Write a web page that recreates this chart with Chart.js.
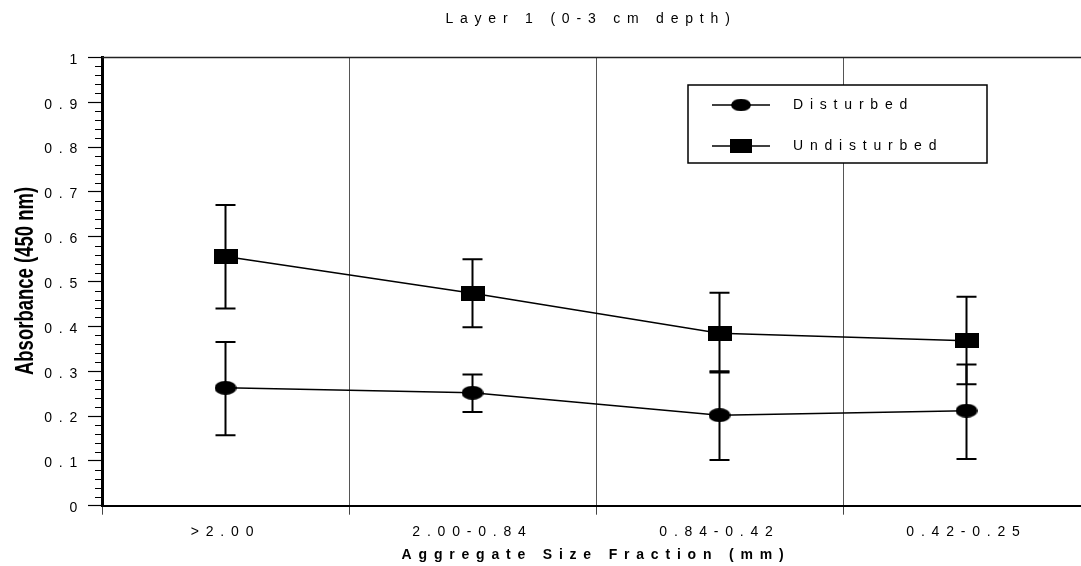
<!DOCTYPE html>
<html>
<head>
<meta charset="utf-8">
<script src="https://cdn.jsdelivr.net/npm/chart.js@4"></script>
<style>
  html, body { margin: 0; padding: 0; background: #fff; overflow: hidden; }
  #wrap { width: 1182px; height: 566px; }
</style>
</head>
<body>
<div id="wrap"><canvas id="chart" width="1182" height="566"></canvas></div>
<script>
// Data
const categories = ['>2.00', '2.00-0.84', '0.84-0.42', '0.42-0.25'];
const disturbed = [0.263, 0.252, 0.202, 0.212];
const disturbedLow = [0.157, 0.209, 0.102, 0.104];
const disturbedHigh = [0.365, 0.293, 0.300, 0.315];
const undisturbed = [0.556, 0.474, 0.385, 0.368];
const undisturbedLow = [0.440, 0.398, 0.297, 0.271];
const undisturbedHigh = [0.671, 0.550, 0.475, 0.466];
const yTicks = [0, 0.1, 0.2, 0.3, 0.4, 0.5, 0.6, 0.7, 0.8, 0.9, 1];
const chartTitle = 'Layer 1 (0-3 cm depth)';

const SPACING = '6.8px';
const FONT = "'Liberation Sans', Arial, sans-serif";

// Marker images (ellipse and flat rectangle, like the original)
function makeEllipse(w, h) {
  const c = document.createElement('canvas');
  c.width = w; c.height = h;
  const g = c.getContext('2d');
  g.fillStyle = '#000';
  g.beginPath();
  g.ellipse(w / 2, h / 2, w / 2, h / 2, 0, 0, Math.PI * 2);
  g.fill();
  return c;
}
function makeRect(w, h) {
  const c = document.createElement('canvas');
  c.width = w; c.height = h;
  const g = c.getContext('2d');
  g.fillStyle = '#000';
  g.fillRect(0, 0, w, h);
  return c;
}
const circleMark = makeEllipse(22, 14);
const squareMark = makeRect(24, 15);

const errorBars = [
  { low: disturbedLow, high: disturbedHigh },
  { low: undisturbedLow, high: undisturbedHigh }
];

// Spaced-out lettering like the old export
const spacingPlugin = {
  id: 'spacing',
  beforeDraw(chart) {
    chart.ctx.letterSpacing = SPACING;
  }
};

// Error bars through the scales
const errorBarPlugin = {
  id: 'errorBars',
  beforeDatasetsDraw(chart) {
    const ctx = chart.ctx;
    const x = chart.scales.x, y = chart.scales.y;
    ctx.save();
    ctx.strokeStyle = '#000';
    ctx.lineWidth = 2;
    errorBars.forEach(bar => {
      categories.forEach((cat, i) => {
        const px = x.getPixelForValue(i);
        const top = y.getPixelForValue(bar.high[i]);
        const bot = y.getPixelForValue(bar.low[i]);
        ctx.beginPath();
        ctx.moveTo(px, top); ctx.lineTo(px, bot);
        ctx.moveTo(px - 10, top); ctx.lineTo(px + 10, top);
        ctx.moveTo(px - 10, bot); ctx.lineTo(px + 10, bot);
        ctx.stroke();
      });
    });
    ctx.restore();
  }
};

// Title, frame, minor ticks, legend box and y title
const decorPlugin = {
  id: 'decor',
  afterDraw(chart) {
    const ctx = chart.ctx;
    const area = chart.chartArea;
    const y = chart.scales.y;
    ctx.save();

    // title, centred over the plot like the original
    ctx.letterSpacing = SPACING;
    ctx.fillStyle = '#000';
    ctx.font = '14px ' + FONT;
    ctx.textAlign = 'center';
    ctx.textBaseline = 'middle';
    ctx.fillText(chartTitle, 591, 19.5);
    ctx.letterSpacing = '0px';

    // top and right border of the plot
    ctx.strokeStyle = '#222';
    ctx.lineWidth = 1.5;
    ctx.beginPath();
    ctx.moveTo(area.left, area.top);
    ctx.lineTo(area.right, area.top);
    ctx.lineTo(area.right, area.bottom);
    ctx.stroke();

    // minor ticks every 0.02
    ctx.strokeStyle = '#000';
    ctx.lineWidth = 1.2;
    ctx.beginPath();
    for (let k = 0; k <= 50; k++) {
      if (k % 5 === 0) continue;
      const py = Math.round(y.getPixelForValue(k / 50)) + 0.5;
      ctx.moveTo(area.left - 7, py);
      ctx.lineTo(area.left, py);
    }
    ctx.stroke();

    // legend
    const lx = 688, ly = 85, lw = 299, lh = 78;
    ctx.fillStyle = '#fff';
    ctx.fillRect(lx, ly, lw, lh);
    ctx.strokeStyle = '#000';
    ctx.lineWidth = 1.5;
    ctx.strokeRect(lx, ly, lw, lh);
    const rows = [
      { label: chart.data.datasets[0].label, mark: circleMark, y: 105 },
      { label: chart.data.datasets[1].label, mark: squareMark, y: 146 }
    ];
    rows.forEach(r => {
      ctx.lineWidth = 1.5;
      ctx.beginPath();
      ctx.moveTo(712, r.y); ctx.lineTo(770, r.y);
      ctx.stroke();
      const mw = r.mark.width * 0.9, mh = r.mark.height * 0.9;
      ctx.drawImage(r.mark, 741 - mw / 2, r.y - mh / 2, mw, mh);
      ctx.letterSpacing = SPACING;
      ctx.fillStyle = '#000';
      ctx.font = '14px ' + FONT;
      ctx.textBaseline = 'middle';
      ctx.textAlign = 'left';
      ctx.fillText(r.label, 793, r.y);
      ctx.letterSpacing = '0px';
    });

    // y axis title, bold and condensed
    ctx.translate(33, 281);
    ctx.rotate(-Math.PI / 2);
    ctx.scale(0.74, 1);
    ctx.font = 'bold 25px ' + FONT;
    ctx.textAlign = 'center';
    ctx.textBaseline = 'alphabetic';
    ctx.fillStyle = '#000';
    ctx.fillText('Absorbance (450 nm)', 0, 0);
    ctx.restore();
  }
};

Chart.defaults.color = '#000';
Chart.defaults.font.family = FONT;
Chart.defaults.font.size = 14;

new Chart(document.getElementById('chart'), {
  type: 'line',
  data: {
    labels: categories,
    datasets: [
      {
        label: 'Disturbed',
        data: disturbed,
        borderColor: '#000',
        borderWidth: 1.5,
        pointStyle: circleMark,
        pointRadius: 8,
        tension: 0
      },
      {
        label: 'Undisturbed',
        data: undisturbed,
        borderColor: '#000',
        borderWidth: 1.5,
        pointStyle: squareMark,
        pointRadius: 8,
        tension: 0
      }
    ]
  },
  options: {
    responsive: false,
    animation: false,
    layout: { padding: { left: 0, right: 92, top: 57.5, bottom: 0 } },
    plugins: {
      legend: { display: false },
      tooltip: { enabled: false },
      title: { display: false }
    },
    scales: {
      x: {
        offset: true,
        afterFit(scale) { scale.height = 60.3; },
        grid: {
          offset: true,
          color: '#555',
          lineWidth: 1,
          tickLength: 9,
          tickColor: '#444'
        },
        border: { color: '#000', width: 2 },
        ticks: { padding: 8.6, maxRotation: 0, autoSkip: false, font: { size: 14 } },
        title: {
          display: true,
          text: 'Aggregate Size Fraction (mm)',
          font: { size: 14, weight: 'bold' },
          padding: { top: 6, bottom: 2.6 }
        }
      },
      y: {
        min: 0,
        max: 1,
        afterFit(scale) { scale.width = 102; },
        afterBuildTicks(scale) { scale.ticks = yTicks.map(v => ({ value: v })); },
        grid: {
          drawOnChartArea: false,
          tickLength: 14,
          tickColor: '#000',
          tickWidth: 1.2
        },
        border: { color: '#000', width: 3 },
        ticks: {
          padding: 4,
          labelOffset: 2.5,
          font: { size: 14 },
          callback: v => String(Math.round(v * 10) / 10)
        }
      }
    }
  },
  plugins: [spacingPlugin, errorBarPlugin, decorPlugin]
});
</script>
</body>
</html>
